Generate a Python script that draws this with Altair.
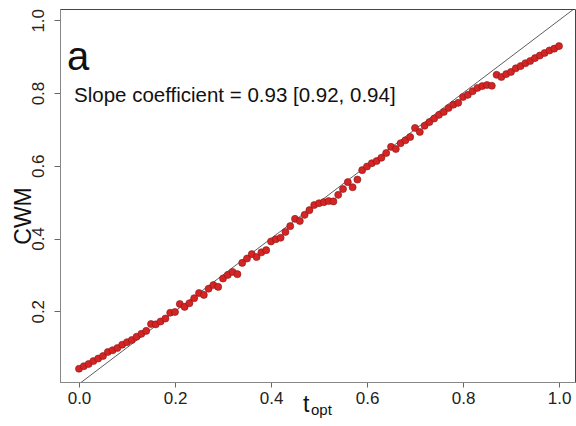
import altair as alt
import pandas as pd

t_opt = [round(i * 0.01, 2) for i in range(101)]
cwm = [
    0.042, 0.049, 0.055, 0.063, 0.070, 0.077, 0.088, 0.093, 0.099, 0.108,
    0.115, 0.121, 0.130, 0.138, 0.146, 0.165, 0.164, 0.172, 0.180, 0.196,
    0.198, 0.220, 0.212, 0.222, 0.236, 0.250, 0.245, 0.262, 0.272, 0.267,
    0.290, 0.300, 0.308, 0.302, 0.333, 0.345, 0.357, 0.349, 0.362, 0.368,
    0.392, 0.398, 0.402, 0.418, 0.434, 0.454, 0.448, 0.465, 0.478, 0.492,
    0.497, 0.500, 0.503, 0.502, 0.520, 0.536, 0.555, 0.541, 0.562, 0.588,
    0.598, 0.607, 0.613, 0.622, 0.635, 0.652, 0.646, 0.662, 0.670, 0.679,
    0.704, 0.693, 0.710, 0.720, 0.730, 0.740, 0.748, 0.759, 0.768, 0.773,
    0.789, 0.795, 0.805, 0.814, 0.819, 0.822, 0.820, 0.850, 0.844, 0.852,
    0.858, 0.868, 0.874, 0.882, 0.888, 0.896, 0.903, 0.910, 0.917, 0.922,
    0.929,
]
x_ticks = [0.0, 0.2, 0.4, 0.6, 0.8, 1.0]
y_ticks = [0.2, 0.4, 0.6, 0.8, 1.0]
line_ends = [0.0, 1.1]
panel_label = "a"
slope_text = "Slope coefficient = 0.93 [0.92, 0.94]"
x_title_main = "t"
x_title_sub = "opt"
y_title = "CWM"

FONT = "Liberation Sans"
X_DOMAIN = [-0.0396, 1.0333]
Y_DOMAIN = [0.0055, 1.031]

df = pd.DataFrame({"t_opt": t_opt, "CWM": cwm})
line_df = pd.DataFrame({"x": line_ends, "y": line_ends})

x_axis = alt.Axis(values=x_ticks, format=".1f", grid=False, tickSize=5,
                  labelFontSize=17, labelFont=FONT, labelColor="#222",
                  labelPadding=3, domainColor="#888", tickColor="#666",
                  title=None)
y_axis = alt.Axis(values=y_ticks, format=".1f", grid=False, tickSize=6,
                  labelFontSize=17, labelFont=FONT, labelColor="#222",
                  labelAngle=270, labelAlign="center", labelBaseline="bottom",
                  labelPadding=7, domainColor="#888", tickColor="#666",
                  title=None)

xs = alt.Scale(domain=X_DOMAIN, nice=False, zero=False)
ys = alt.Scale(domain=Y_DOMAIN, nice=False, zero=False)

diag = alt.Chart(line_df).mark_line(color="#333", strokeWidth=0.8, clip=True).encode(
    x=alt.X("x:Q", scale=xs, axis=x_axis),
    y=alt.Y("y:Q", scale=ys, axis=y_axis),
)

pts = alt.Chart(df).mark_point(filled=True, fill="#d42424", stroke="#8a1515",
                               strokeWidth=0.6, size=50, opacity=1).encode(
    x=alt.X("t_opt:Q", scale=xs),
    y=alt.Y("CWM:Q", scale=ys),
)

label_a = alt.Chart(pd.DataFrame({"s": [panel_label]})).mark_text(
    align="left", baseline="alphabetic", fontSize=40, font=FONT, color="#111"
).encode(x=alt.value(7), y=alt.value(61), text="s:N")

label_slope = alt.Chart(pd.DataFrame({"s": [slope_text]})).mark_text(
    align="left", baseline="alphabetic", fontSize=20.5, font=FONT, color="#111"
).encode(x=alt.value(14), y=alt.value(93), text="s:N")

xt_main = alt.Chart(pd.DataFrame({"s": [x_title_main]})).mark_text(
    align="left", baseline="alphabetic", fontSize=23, font=FONT, color="#111"
).encode(x=alt.value(243), y=alt.value(403), text="s:N")

xt_sub = alt.Chart(pd.DataFrame({"s": [x_title_sub]})).mark_text(
    align="left", baseline="alphabetic", fontSize=15, font=FONT, color="#111"
).encode(x=alt.value(251), y=alt.value(406), text="s:N")

yt = alt.Chart(pd.DataFrame({"s": [y_title]})).mark_text(
    align="center", baseline="middle", angle=270, fontSize=23, font=FONT, color="#111"
).encode(x=alt.value(-36), y=alt.value(207), text="s:N")

chart = alt.layer(diag, pts, label_a, label_slope, xt_main, xt_sub, yt).properties(
    width=515, height=373,
    autosize=alt.AutoSizeParams(type="none"),
    padding={"left": 60, "top": 9, "right": 1, "bottom": 44},
    background="white",
).configure_view(stroke="#444", strokeWidth=1)

chart.save("out.html", embed_options={"renderer": "svg", "actions": False})
